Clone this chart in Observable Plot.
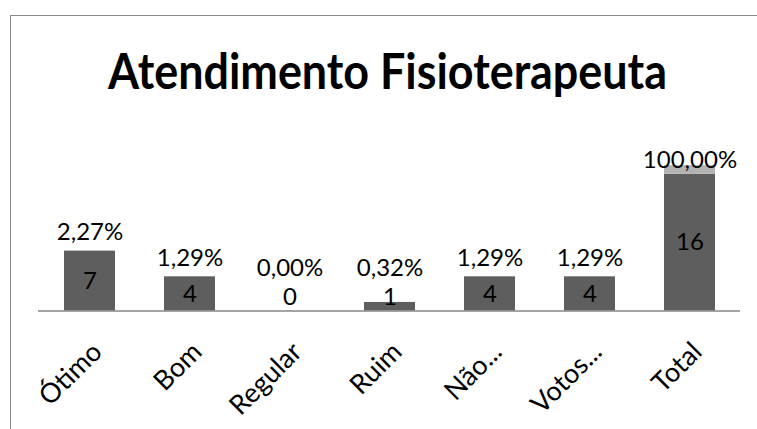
<!DOCTYPE html>
<html><head><meta charset="utf-8">
<script src="https://cdn.jsdelivr.net/npm/d3@7"></script>
<script src="https://cdn.jsdelivr.net/npm/@observablehq/plot@0.6"></script>
<style>
html,body{margin:0;padding:0;background:#fff;}
#wrap{position:relative;width:757px;height:429px;overflow:hidden;}
#border{position:absolute;left:10px;top:15px;right:-2px;bottom:-2px;border-top:1px solid #8a8a8a;border-left:1px solid #8a8a8a;}
#chart{position:absolute;left:0;top:0;}
</style></head><body>
<div id="wrap"><div id="border"></div><div id="chart"></div></div>
<script>
const title = "Atendimento Fisioterapeuta";
const categories = ["Ótimo", "Bom", "Regular", "Ruim", "Não...", "Votos...", "Total"];
const counts = [7, 4, 0, 1, 4, 4, 16];
const percents = [2.27, 1.29, 0.00, 0.32, 1.29, 1.29, 100.00];

const yMax = 17.6;
const rows = [];
categories.forEach((c, i) => rows.push({cat: c, series: "n", value: counts[i]}));
categories.forEach((c, i) => rows.push({cat: c, series: "pct", value: percents[i] / 100}));

const labels = categories.map((c, i) => {
  const countY = Math.max(counts[i] / 2, 1.6);
  const top = counts[i] + percents[i] / 100;
  const pctY = Math.min(Math.max(top + 2.2, countY + 3.4), yMax);
  return {cat: c, count: String(counts[i]), countY,
          pct: percents[i].toFixed(2).replace(".", ",") + "%", pctY};
});

const chart = Plot.plot({
  width: 757,
  height: 429,
  marginLeft: 38,
  marginRight: 17,
  marginTop: 160,
  marginBottom: 118.5,
  style: {fontFamily: "Lato, 'Open Sans', sans-serif", background: "transparent", overflow: "visible"},
  x: {domain: categories, paddingInner: 0.49, paddingOuter: 0.245, axis: null},
  y: {domain: [0, yMax], axis: null},
  color: {domain: ["n", "pct"], range: ["#5e5e5e", "#b3b3b3"]},
  marks: [
    Plot.barY(rows, {x: "cat", y: "value", fill: "series"}),
    Plot.ruleY([0], {stroke: "#868686", strokeWidth: 1.5}),
    Plot.text(labels, {x: "cat", y: "countY", text: "count", fontSize: 24, lineAnchor: "middle", fill: "#000"}),
    Plot.text(labels, {x: "cat", y: "pctY", text: "pct", fontSize: 24, lineAnchor: "middle", fill: "#000"}),
    Plot.text(categories, {x: d => d, text: d => d, frameAnchor: "bottom", dy: 29, rotate: -45,
      textAnchor: "end", lineAnchor: "top", fontSize: 27, fill: "#000"})
  ]
});

d3.select(chart).append("text")
  .attr("x", 387.5).attr("y", 89)
  .attr("text-anchor", "middle")
  .attr("font-family", "Lato, 'Open Sans', sans-serif")
  .attr("font-weight", 700)
  .attr("font-size", 50)
  .attr("textLength", 559)
  .attr("lengthAdjust", "spacingAndGlyphs")
  .attr("fill", "#000")
  .text(title);

document.getElementById("chart").appendChild(chart);
</script>
</body></html>
